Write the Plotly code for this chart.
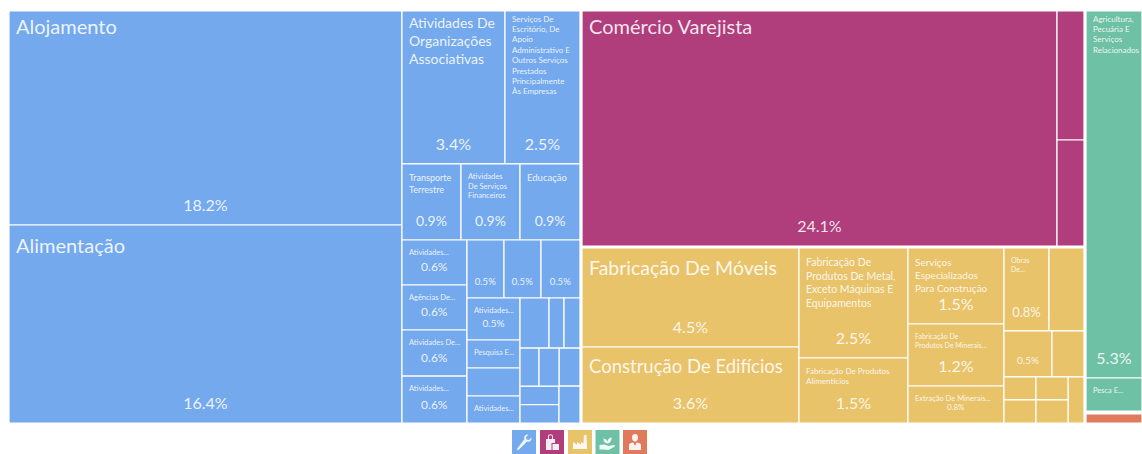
import plotly.graph_objects as go

W, H = 1152, 454  # page is cropped to 1142 wide; the extra room lets the text layers shift right

# Tree of the treemap; groups carry value 0 and take the sum of their children
ids = ["R",
       "A", "b01", "b02",
       "B", "B1", "b03", "b04",
       "B2", "b05", "b06", "b07",
       "B3", "B31", "b08", "b09", "b10", "b11",
       "B32", "B321", "b12", "b13", "b14",
       "B322", "B3221", "b15", "b16", "b17", "b18",
       "B3222", "B32221", "b19", "b20", "b21",
       "B32222", "B3L", "B3La", "b22", "b23", "b24", "b25",
       "B3R", "b26", "b27",
       "s1",
       "C", "Cm", "m01", "Cm2", "m02", "m03",
       "s3",
       "Cy", "Cy1", "y01", "y02",
       "Cy2", "y03", "y04",
       "Cy3", "y05", "y06", "y07",
       "Cy4", "Cy41", "y08", "y09",
       "Cy42", "y10", "y11",
       "Cy43", "Cy431", "Cy4311", "y12", "y13", "Cy4312", "y14", "y15", "y16",
       "s2",
       "D", "g01", "g02", "s4", "o01"]
parents = ["",
           "R", "A", "A",
           "R", "B", "B1", "B1",
           "B", "B2", "B2", "B2",
           "B", "B3", "B31", "B31", "B31", "B31",
           "B3", "B32", "B321", "B321", "B321",
           "B32", "B322", "B3221", "B3221", "B3221", "B3221",
           "B322", "B3222", "B32221", "B32221", "B32221",
           "B3222", "B32222", "B3L", "B3La", "B3La", "B3L", "B3L",
           "B32222", "B3R", "B3R",
           "R",
           "R", "C", "Cm", "Cm", "Cm2", "Cm2",
           "C",
           "C", "Cy", "Cy1", "Cy1",
           "Cy", "Cy2", "Cy2",
           "Cy", "Cy3", "Cy3", "Cy3",
           "Cy", "Cy4", "Cy41", "Cy41",
           "Cy4", "Cy42", "Cy42",
           "Cy4", "Cy43", "Cy431", "Cy4311", "Cy4311", "Cy431", "Cy4312", "Cy4312", "Cy43",
           "R",
           "R", "D", "D", "D", "D"]
# Area shares (percent of the treemap area)
leaf_values = {
    "b01": 18.016, "b02": 16.670,
    "b03": 3.376, "b04": 2.458,
    "b05": 0.961, "b06": 0.961, "b07": 0.977,
    "b08": 0.627, "b09": 0.627, "b10": 0.641, "b11": 0.654,
    "b12": 0.460, "b13": 0.460, "b14": 0.485,
    "b15": 0.477, "b16": 0.318, "b17": 0.318, "b18": 0.307,
    "b19": 0.311, "b20": 0.161, "b21": 0.171,
    "b22": 0.155, "b23": 0.163, "b24": 0.154, "b25": 0.154,
    "b26": 0.171, "b27": 0.166,
    "m01": 23.913, "m02": 0.746, "m03": 0.613,
    "y01": 4.602, "y02": 3.533, "y03": 2.569, "y04": 1.518,
    "y05": 1.563, "y06": 1.275, "y07": 0.761,
    "y08": 0.800, "y09": 0.622, "y10": 0.473, "y11": 0.315,
    "y12": 0.158, "y13": 0.158, "y14": 0.158, "y15": 0.158, "y16": 0.158,
    "g01": 4.403, "g02": 0.396, "o01": 0.108,
    "s1": 0.177, "s2": 0.177, "s3": 0.215, "s4": 0.036,
}
# Cell names and label font sizes
names = {
    "b01": ("Alojamento", 20), "b02": ("Alimentação", 20),
    "b03": ("Atividades De<br>Organizações<br>Associativas", 14),
    "b04": ("Serviços De<br>Escritório, De<br>Apoio<br>Administrativo E<br>Outros Serviços<br>Prestados<br>Principalmente<br>Às Empresas", 8),
    "b05": ("Transporte<br>Terrestre", 9), "b06": ("Atividades<br>De Serviços<br>Financeiros", 7.5),
    "b07": ("Educação", 9.5),
    "b08": ("Atividades...", 7.5), "b09": ("Agências De...", 7.5),
    "b10": ("Atividades De...", 7.5), "b11": ("Atividades...", 7.5),
    "b15": ("Atividades...", 7.5), "b16": ("Pesquisa E...", 7.5), "b18": ("Atividades...", 7.5),
    "m01": ("Comércio Varejista", 20),
    "y01": ("Fabricação De Móveis", 19.5), "y02": ("Construção De Edifícios", 18.5),
    "y03": ("Fabricação De<br>Produtos De Metal,<br>Exceto Máquinas E<br>Equipamentos", 10.5),
    "y04": ("Fabricação De Produtos<br>Alimentícios", 8),
    "y05": ("Serviços<br>Especializados<br>Para Construção", 10),
    "y06": ("Fabricação De<br>Produtos De Minerais...", 7),
    "y07": ("Extração De Minerais...", 7.5),
    "y08": ("Obras<br>De...", 7),
    "g01": ("Agricultura,<br>Pecuária E<br>Serviços<br>Relacionados", 8),
    "g02": ("Pesca E...", 7.5),
}
top_row = ["b01", "b03", "b04", "m01", "g01"]
# Share labels and their font sizes
shares = {
    "b01": ("18.2%", 16), "b02": ("16.4%", 16), "b03": ("3.4%", 16), "b04": ("2.5%", 16),
    "b05": ("0.9%", 14), "b06": ("0.9%", 14), "b07": ("0.9%", 14),
    "b08": ("0.6%", 12), "b09": ("0.6%", 12), "b10": ("0.6%", 12), "b11": ("0.6%", 12),
    "b12": ("0.5%", 9.5), "b13": ("0.5%", 9.5), "b14": ("0.5%", 9.5), "b15": ("0.5%", 10),
    "m01": ("24.1%", 16), "y01": ("4.5%", 16), "y02": ("3.6%", 16), "y03": ("2.5%", 16),
    "y04": ("1.5%", 16), "y05": ("1.5%", 16), "y06": ("1.2%", 16), "y07": ("0.8%", 8),
    "y08": ("0.8%", 13), "y10": ("0.5%", 10), "g01": ("5.3%", 16),
}
sector_colors = {"b": "#75A9EE", "m": "#B03E7C", "y": "#E8C36A", "g": "#6FC1A5", "o": "#DF7A5C", "s": "#FFFFFF"}
legend_colors = ["#75A9EE", "#B03E7C", "#E8C36A", "#6FC1A5", "#DF7A5C"]

FONT = "Lato"
TEXT = "rgba(255,255,255,0.88)"
values = [leaf_values.get(i, 0) for i in ids]
fills = [sector_colors[i[0]] if i in leaf_values else "rgba(0,0,0,0)" for i in ids]
lines = [1.2 if (i in leaf_values and i[0] != "s") else 0 for i in ids]
CLEAR = ["rgba(0,0,0,0)"] * len(ids)
LEFT, RIGHT, TOP, BOTTOM = 9, 1142, 11, 423


def layer(colors, line_w, text, sizes, position, dx=0, dy=0):
    return go.Treemap(
        ids=ids, labels=ids, parents=parents, values=values,
        branchvalues="remainder", sort=False,
        domain=dict(x=[(LEFT + dx) / W, (RIGHT + dx) / W],
                    y=[1 - (BOTTOM + dy) / H, 1 - (TOP + dy) / H]),
        tiling=dict(packing="slice-dice", pad=0),
        pathbar=dict(visible=False),
        root=dict(color="rgba(0,0,0,0)"),
        marker=dict(colors=colors, depthfade=False,
                    line=dict(color="#FFFFFF", width=line_w),
                    pad=dict(t=0, l=0, r=0, b=0)),
        text=text, textinfo="text", textposition=position,
        textfont=dict(family=FONT, size=sizes, color=TEXT),
        hoverinfo="skip",
    )


def name_layer(keep, dy):
    picked = [names[i] if (i in names and keep(i)) else ("", 8) for i in ids]
    return layer(CLEAR, 0, [p[0] for p in picked], [p[1] for p in picked], "top left", dx=4, dy=dy)


fig = go.Figure()
fig.add_trace(layer(fills, lines, [""] * len(ids), 10, "top left"))
fig.add_trace(name_layer(lambda i: i in top_row, -0.5))
fig.add_trace(name_layer(lambda i: i not in top_row, 5))
fig.add_trace(layer(CLEAR, 0, [shares.get(i, ("", 8))[0] for i in ids],
                    [shares.get(i, ("", 8))[1] for i in ids], "bottom center", dy=-8))

# Legend icons, drawn in a 24-unit box
icon_paths = [
    # wrench
    ["M5 19 L6 20.5 L15 11.5 C17.5 12.5 20 10.5 19.5 7.5 L17 10 L14.5 9.5 L14 7 L16.5 4.5 C13.5 4 11.5 6.5 12.5 9 Z"],
    # shopping bags
    ["M6 9 L15 9 L15 13 L11.5 13 L11.5 20 L6 20 Z M8 9 L8 6.5 C8 3.5 13 3.5 13 6.5 L13 9 L12 9 L12 6.5 C12 5 9 5 9 6.5 L9 9 Z",
     "M12.5 14 L19 14 L19 20 L12.5 20 Z"],
    # factory
    ["M5 19 L5 12 L9 14.5 L9 12 L13 14.5 L13 12 L15.5 13.5 L16 5 L18.5 5 L19 19 Z"],
    # plant over a hand
    ["M4 15 L9 14.5 L13 16 L18 15 C20 15 20 16.5 18.5 17 L13 20 L8 19.5 L4 19.5 Z",
     "M12 13.5 C9 13 7.5 11 8 8.5 C10 9 11.5 10 12 11.5 C12.5 9 14 7.5 16 7.5 C16.5 10 15 13 12 13.5 Z"],
    # person
    ["M12 4 C14.5 4 15 6 15 7.5 C15 10 13.5 11.5 12 11.5 C10.5 11.5 9 10 9 7.5 C9 6 9.5 4 12 4 Z",
     "M6 20 L6 15 C6 13.5 8 12.5 10.5 12.5 L12 16 L13.5 12.5 C16 12.5 18 13.5 18 15 L18 20 Z"],
]
legend_left = [512, 540, 568, 595.5, 623]
LEGEND_TOP, LEGEND_SIZE = 430, 24


def place(path, left):
    res, axis = [], 0
    for token in path.split():
        cmd = token[0] if token[0].isalpha() else ""
        body = token[1:] if cmd else token
        if cmd == "Z":
            res.append("Z")
            continue
        v = float(body)
        if cmd:
            axis = 0
        if axis == 0:
            res.append(f"{cmd}{(left + v) / W:.5f}")
        else:
            res.append(f"{1 - (LEGEND_TOP + v) / H:.5f}")
        axis = 1 - axis
    return " ".join(res)


shapes = []
for left, color, parts in zip(legend_left, legend_colors, icon_paths):
    shapes.append(dict(type="rect", xref="paper", yref="paper", layer="below",
                       x0=left / W, x1=(left + LEGEND_SIZE) / W,
                       y0=1 - (LEGEND_TOP + LEGEND_SIZE) / H, y1=1 - LEGEND_TOP / H,
                       fillcolor=color, line=dict(width=0)))
    for p in parts:
        shapes.append(dict(type="path", xref="paper", yref="paper", layer="above",
                           path=place(p, left), fillcolor="rgba(255,255,255,0.9)", line=dict(width=0)))

fig.update_layout(width=W, height=H, margin=dict(l=0, r=0, t=0, b=0),
                  paper_bgcolor="#FFFFFF", plot_bgcolor="#FFFFFF",
                  showlegend=False, shapes=shapes, font=dict(family=FONT))
fig.write_html("out.html", config=dict(displayModeBar=False),
               post_script="document.body.style.margin='0';document.body.style.overflow='hidden';")
